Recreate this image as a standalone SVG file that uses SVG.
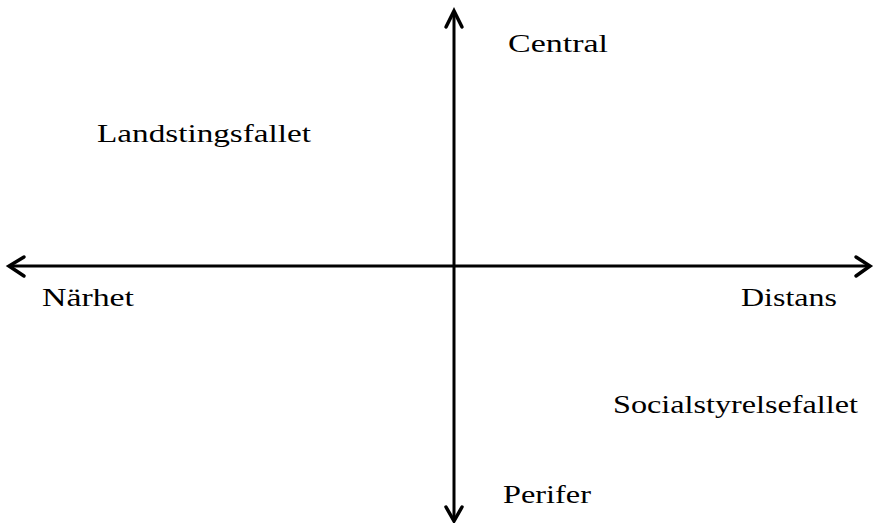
<svg xmlns="http://www.w3.org/2000/svg" width="875" height="523" viewBox="0 0 875 523">
<style>
.ax{stroke:#000;stroke-width:3;fill:none}
.hd{stroke:#000;stroke-width:3.5;fill:none;stroke-linecap:round;stroke-linejoin:miter}
text{font-family:"Liberation Serif","DejaVu Serif",serif;font-size:26px;fill:#000}
</style>
<rect width="875" height="523" fill="#fff"/>
<g id="connectors">
<line class="ax" x1="454" y1="11" x2="454" y2="521"/>
<line class="ax" x1="9" y1="266" x2="870" y2="266"/>
<polyline class="hd" points="446,27 454,11 462,27"/>
<polyline class="hd" points="446,507 454,521 462,507"/>
<polyline class="hd" points="24,257 9,266 24,276"/>
<polyline class="hd" points="856,257 870,266 856,276"/>
</g>
<g id="central"><text x="508" y="52" textLength="100" lengthAdjust="spacingAndGlyphs">Central</text></g>
<g id="landstingsfallet"><text x="97" y="142" textLength="214" lengthAdjust="spacingAndGlyphs">Landstingsfallet</text></g>
<g id="narhet"><text x="42" y="306" textLength="92" lengthAdjust="spacingAndGlyphs">Närhet</text></g>
<g id="distans"><text x="741" y="306" textLength="96" lengthAdjust="spacingAndGlyphs">Distans</text></g>
<g id="socialstyrelsefallet"><text x="613" y="413" textLength="245" lengthAdjust="spacingAndGlyphs">Socialstyrelsefallet</text></g>
<g id="perifer"><text x="503" y="503" textLength="88" lengthAdjust="spacingAndGlyphs">Perifer</text></g>
</svg>
